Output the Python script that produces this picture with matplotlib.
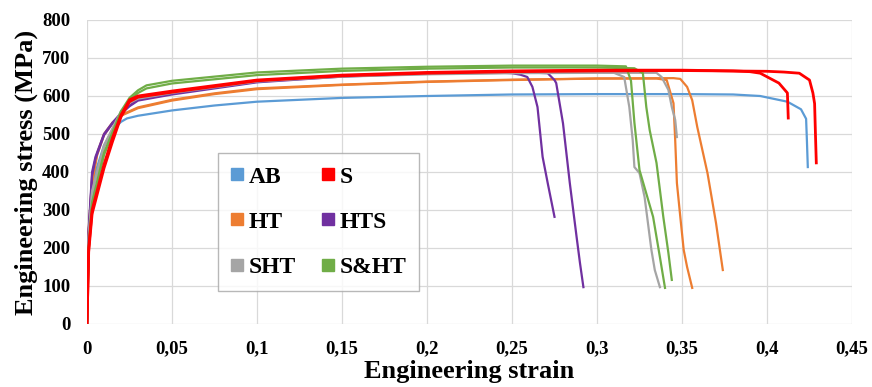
import matplotlib
matplotlib.use("Agg")
import matplotlib.pyplot as plt
from matplotlib.lines import Line2D
from matplotlib.ticker import FuncFormatter

plt.rcParams['font.family'] = ['Liberation Serif', 'DejaVu Serif']
plt.rcParams['font.weight'] = 'bold'

# AB
ab_strain = [0, 0.001, 0.005, 0.01, 0.015, 0.02, 0.0235, 0.03, 0.05, 0.075, 0.1, 0.15, 0.2, 0.25,
             0.3, 0.35, 0.38, 0.396, 0.412, 0.42, 0.423, 0.4235, 0.424]
ab_stress = [0, 250, 400, 470, 510, 532, 541, 548, 562, 575, 585, 595, 600, 604,
             605, 605, 604, 600, 585, 565, 540, 480, 413]

# S
s1_strain = [0, 0.001, 0.003, 0.01, 0.015, 0.02, 0.025, 0.03, 0.05, 0.1, 0.15, 0.2, 0.25, 0.3,
             0.35, 0.38, 0.39, 0.396, 0.407, 0.412, 0.4125]
s1_stress = [0, 200, 300, 420, 490, 550, 590, 600, 613, 642, 655, 662, 666, 668,
             668, 666, 664, 660, 634, 608, 542]
s2_strain = [0, 0.001, 0.003, 0.01, 0.015, 0.02, 0.025, 0.03, 0.05, 0.1, 0.15, 0.2, 0.25, 0.3,
             0.35, 0.4, 0.41, 0.419, 0.425, 0.427, 0.428, 0.4285, 0.429]
s2_stress = [0, 190, 290, 410, 480, 545, 585, 597, 610, 640, 653, 660, 664, 666,
             667, 665, 663, 660, 642, 608, 580, 500, 424]

# HT
ht1_strain = [0, 0.001, 0.003, 0.006, 0.01, 0.015, 0.02, 0.025, 0.03, 0.05, 0.075, 0.1, 0.15, 0.2,
              0.25, 0.3, 0.335, 0.341, 0.345, 0.346, 0.347, 0.349, 0.351, 0.353, 0.356]
ht1_stress = [0, 250, 380, 450, 500, 530, 550, 560, 570, 590, 607, 620, 630, 638,
              643, 646, 646, 642, 581, 484, 371, 282, 195, 150, 95]
ht2_strain = [0, 0.001, 0.003, 0.006, 0.01, 0.015, 0.02, 0.025, 0.03, 0.05, 0.075, 0.1, 0.15, 0.2,
              0.25, 0.3, 0.345, 0.349, 0.353, 0.356, 0.359, 0.365, 0.37, 0.374]
ht2_stress = [0, 240, 370, 445, 497, 528, 548, 558, 568, 588, 605, 618, 629, 637,
              642, 646, 647, 645, 624, 589, 518, 397, 266, 142]

# HTS
hts1_strain = [0, 0.001, 0.003, 0.005, 0.01, 0.015, 0.02, 0.025, 0.03, 0.05, 0.1, 0.15, 0.2, 0.24,
               0.25, 0.255, 0.259, 0.262, 0.265, 0.268, 0.271, 0.275]
hts1_stress = [0, 250, 400, 440, 500, 530, 555, 575, 590, 606, 638, 652, 660, 662,
               660, 656, 650, 624, 571, 440, 371, 282]
hts2_strain = [0, 0.001, 0.003, 0.005, 0.01, 0.015, 0.02, 0.025, 0.03, 0.05, 0.1, 0.15, 0.2, 0.25,
               0.265, 0.271, 0.275, 0.276, 0.28, 0.284, 0.288, 0.29, 0.292]
hts2_stress = [0, 240, 390, 435, 497, 528, 553, 573, 588, 604, 636, 651, 659, 662,
               661, 660, 642, 634, 528, 371, 229, 160, 97]

# SHT
sht1_strain = [0, 0.001, 0.003, 0.01, 0.02, 0.025, 0.03, 0.05, 0.1, 0.15, 0.2, 0.25, 0.3, 0.31,
               0.316, 0.319, 0.321, 0.322, 0.325, 0.328, 0.332, 0.334, 0.337]
sht1_stress = [0, 230, 350, 470, 560, 585, 595, 610, 640, 652, 658, 661, 662, 661,
               650, 571, 484, 413, 397, 334, 195, 142, 97]
sht2_strain = [0, 0.001, 0.003, 0.01, 0.02, 0.025, 0.03, 0.05, 0.1, 0.15, 0.2, 0.25, 0.3, 0.335,
               0.338, 0.342, 0.344, 0.346, 0.347]
sht2_stress = [0, 225, 345, 465, 557, 582, 593, 608, 638, 651, 657, 660, 661, 661,
               650, 616, 571, 537, 492]

# S&HT
sht_s1_strain = [0, 0.001, 0.003, 0.01, 0.02, 0.025, 0.03, 0.035, 0.05, 0.1, 0.15, 0.2, 0.25, 0.3,
                 0.317, 0.32, 0.322, 0.325, 0.333, 0.337, 0.34]
sht_s1_stress = [0, 200, 320, 450, 560, 595, 615, 628, 640, 662, 672, 677, 680, 680,
                 678, 640, 530, 405, 282, 176, 95]
sht_s2_strain = [0, 0.001, 0.003, 0.01, 0.02, 0.025, 0.03, 0.035, 0.05, 0.1, 0.15, 0.2, 0.25, 0.3,
                 0.322, 0.327, 0.329, 0.331, 0.335, 0.339, 0.342, 0.344]
sht_s2_stress = [0, 195, 315, 445, 555, 590, 608, 620, 633, 655, 666, 672, 675, 675,
                 673, 660, 571, 510, 424, 282, 187, 116]

labels = ['AB', 'S', 'HT', 'HTS', 'SHT', 'S&HT']
colors = ['#5B9BD5', '#FF0000', '#ED7D31', '#7030A0', '#A5A5A5', '#70AD47']

fig = plt.figure(figsize=(8.72, 3.87), dpi=100)
ax = fig.add_axes([87 / 872, 63 / 387, 765 / 872, 304 / 387])

ax.plot(ab_strain, ab_stress, color=colors[0], lw=1.6)
ax.plot(ht1_strain, ht1_stress, color=colors[2], lw=1.6)
ax.plot(ht2_strain, ht2_stress, color=colors[2], lw=1.6)
ax.plot(hts1_strain, hts1_stress, color=colors[3], lw=1.6)
ax.plot(hts2_strain, hts2_stress, color=colors[3], lw=1.6)
ax.plot(sht1_strain, sht1_stress, color=colors[4], lw=1.6)
ax.plot(sht2_strain, sht2_stress, color=colors[4], lw=1.6)
ax.plot(sht_s1_strain, sht_s1_stress, color=colors[5], lw=1.6)
ax.plot(sht_s2_strain, sht_s2_stress, color=colors[5], lw=1.6)
ax.plot(s1_strain, s1_stress, color=colors[1], lw=2)
ax.plot(s2_strain, s2_stress, color=colors[1], lw=2)

ax.set_xlim(0, 0.45)
ax.set_ylim(0, 800)
ax.set_xticks([i * 0.05 for i in range(10)])
ax.set_yticks(range(0, 801, 100))
ax.xaxis.set_major_formatter(FuncFormatter(lambda v, p: ('%.2f' % v).rstrip('0').rstrip('.').replace('.', ',')))
ax.grid(True, color='#D9D9D9', lw=0.9)
ax.set_axisbelow(True)
for sp in ax.spines.values():
    sp.set_visible(False)
ax.tick_params(length=0, labelsize=13.5, pad=12)
for t in ax.get_xticklabels() + ax.get_yticklabels():
    t.set_fontweight('bold')

ax.set_xlabel('Engineering strain', fontsize=19, fontweight='bold', labelpad=2)
ax.set_ylabel('Engineering stress (MPa)', fontsize=19, fontweight='bold', labelpad=3)

# legend filled column by column -> reorder to get AB, S / HT, HTS / SHT, S&HT rows
order = [0, 2, 4, 1, 3, 5]
handles = [Line2D([], [], ls='none', marker='s', markersize=8.5, color=colors[i]) for i in order]
leg = ax.legend(handles, [labels[i] for i in order], ncol=2, loc='upper left',
                bbox_to_anchor=(131 / 765, 171 / 304), frameon=True, fancybox=False,
                prop={'family': 'Liberation Serif', 'weight': 'bold', 'size': 17},
                handlelength=0.55, handletextpad=0.2, labelspacing=1.0, columnspacing=1.1,
                borderpad=0.55, borderaxespad=0)
leg.get_frame().set_edgecolor('#A6A6A6')
leg.get_frame().set_linewidth(1.0)

fig.savefig('out.png', dpi=100)
